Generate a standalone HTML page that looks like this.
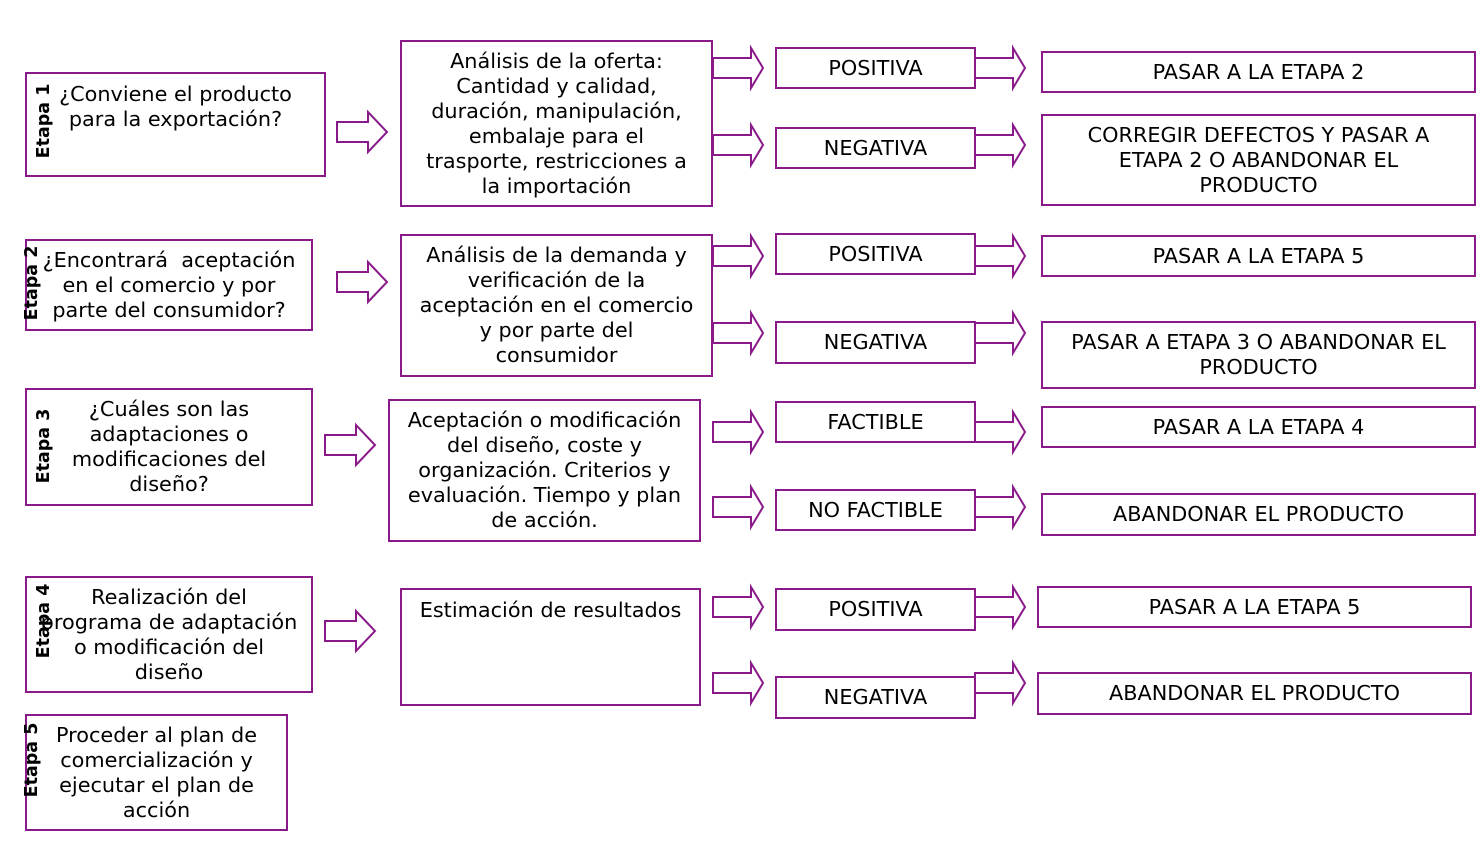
<!DOCTYPE html>
<html><head><meta charset="utf-8"><style>
body{margin:0;width:1476px;height:841px;background:#fff;position:relative;overflow:hidden;font-family:"DejaVu Sans","Liberation Sans",sans-serif;font-size:20.8px;color:#000}
.b{position:absolute;box-sizing:border-box;border:2px solid #8a1a8a;display:flex;flex-direction:column;justify-content:center;align-items:center;text-align:center;line-height:25px;background:#fff;white-space:nowrap}
.t{justify-content:flex-start}
.l{position:absolute;font-weight:bold;font-size:17.5px;transform:translate(-50%,-50%) rotate(-90deg);white-space:nowrap}
svg{position:absolute;left:0;top:0}
</style></head><body>
<div class="b t" style="left:25px;top:72px;width:301px;height:105px;padding-top:8px">¿Conviene el producto<br>para la exportación?</div>
<div class="b" style="left:400px;top:40px;width:313px;height:167px">Análisis de la oferta:<br>Cantidad y calidad,<br>duración, manipulación,<br>embalaje para el<br>trasporte, restricciones a<br>la importación</div>
<div class="b" style="left:775px;top:47px;width:201px;height:42px">POSITIVA</div>
<div class="b" style="left:775px;top:127px;width:201px;height:42px">NEGATIVA</div>
<div class="b" style="left:1041px;top:51px;width:435px;height:42px">PASAR A LA ETAPA 2</div>
<div class="b" style="left:1041px;top:114px;width:435px;height:92px">CORREGIR DEFECTOS Y PASAR A<br>ETAPA 2 O ABANDONAR EL<br>PRODUCTO</div>

<div class="b" style="left:25px;top:239px;width:288px;height:92px">¿Encontrará&nbsp; aceptación<br>en el comercio y por<br>parte del consumidor?</div>
<div class="b" style="left:400px;top:234px;width:313px;height:143px">Análisis de la demanda y<br>verificación de la<br>aceptación en el comercio<br>y por parte del<br>consumidor</div>
<div class="b" style="left:775px;top:233px;width:201px;height:42px">POSITIVA</div>
<div class="b" style="left:775px;top:321px;width:201px;height:43px">NEGATIVA</div>
<div class="b" style="left:1041px;top:235px;width:435px;height:42px">PASAR A LA ETAPA 5</div>
<div class="b" style="left:1041px;top:321px;width:435px;height:68px">PASAR A ETAPA 3 O ABANDONAR EL<br>PRODUCTO</div>

<div class="b" style="left:25px;top:388px;width:288px;height:118px">¿Cuáles son las<br>adaptaciones o<br>modificaciones del<br>diseño?</div>
<div class="b" style="left:388px;top:399px;width:313px;height:143px">Aceptación o modificación<br>del diseño, coste y<br>organización. Criterios y<br>evaluación. Tiempo y plan<br>de acción.</div>
<div class="b" style="left:775px;top:401px;width:201px;height:42px">FACTIBLE</div>
<div class="b" style="left:775px;top:489px;width:201px;height:42px">NO FACTIBLE</div>
<div class="b" style="left:1041px;top:406px;width:435px;height:42px">PASAR A LA ETAPA 4</div>
<div class="b" style="left:1041px;top:493px;width:435px;height:43px">ABANDONAR EL PRODUCTO</div>

<div class="b" style="left:25px;top:576px;width:288px;height:117px">Realización del<br>programa de adaptación<br>o modificación del<br>diseño</div>
<div class="b t" style="left:400px;top:588px;width:301px;height:118px;padding-top:8px">Estimación de resultados</div>
<div class="b" style="left:775px;top:588px;width:201px;height:43px">POSITIVA</div>
<div class="b" style="left:775px;top:676px;width:201px;height:43px">NEGATIVA</div>
<div class="b" style="left:1037px;top:586px;width:435px;height:42px">PASAR A LA ETAPA 5</div>
<div class="b" style="left:1037px;top:672px;width:435px;height:43px">ABANDONAR EL PRODUCTO</div>

<div class="b" style="left:25px;top:714px;width:263px;height:117px">Proceder al plan de<br>comercialización y<br>ejecutar el plan de<br>acción</div>

<div class="l" style="left:44px;top:121px">Etapa 1</div>
<div class="l" style="left:32px;top:283px">Etapa 2</div>
<div class="l" style="left:44px;top:446px">Etapa 3</div>
<div class="l" style="left:44px;top:621px">Etapa 4</div>
<div class="l" style="left:32px;top:760px">Etapa 5</div>

<svg width="1476" height="841" viewBox="0 0 1476 841">
<g fill="#fff" stroke="#8a1a8a" stroke-width="2">
<path d="M337,122H368V112L387,132L368,152V142H337Z"/>
<path d="M337,272H368V262L387,282L368,302V292H337Z"/>
<path d="M325,435H356V425L375,445L356,465V455H325Z"/>
<path d="M325,621H356V611L375,631L356,651V641H325Z"/>
<path d="M713,58H751V48L763,68L751,88V78H713Z"/>
<path d="M713,135H751V125L763,145L751,165V155H713Z"/>
<path d="M975,58H1013V48L1025,68L1013,88V78H975Z"/>
<path d="M975,135H1013V125L1025,145L1013,165V155H975Z"/>
<path d="M713,246H751V236L763,256L751,276V266H713Z"/>
<path d="M713,323H751V313L763,333L751,353V343H713Z"/>
<path d="M975,246H1013V236L1025,256L1013,276V266H975Z"/>
<path d="M975,323H1013V313L1025,333L1013,353V343H975Z"/>
<path d="M713,422H751V412L763,432L751,452V442H713Z"/>
<path d="M713,497H751V487L763,507L751,527V517H713Z"/>
<path d="M975,422H1013V412L1025,432L1013,452V442H975Z"/>
<path d="M975,497H1013V487L1025,507L1013,527V517H975Z"/>
<path d="M713,597H751V587L763,607L751,627V617H713Z"/>
<path d="M713,673H751V663L763,683L751,703V693H713Z"/>
<path d="M975,597H1013V587L1025,607L1013,627V617H975Z"/>
<path d="M975,673H1013V663L1025,683L1013,703V693H975Z"/>
</g>
</svg>
</body></html>
